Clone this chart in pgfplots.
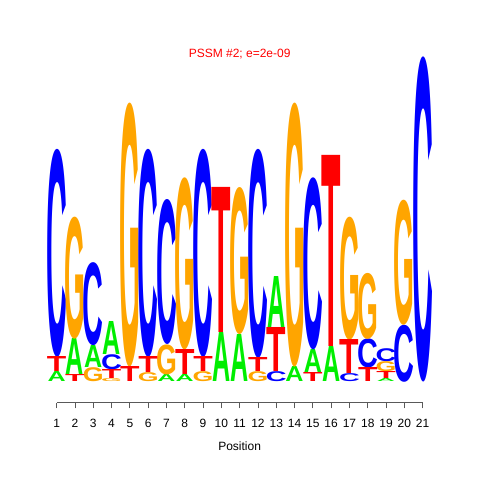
\documentclass[border=0pt]{standalone}
\usepackage{fontspec}
\setmainfont{Liberation Sans}
\usepackage{graphicx}
\usepackage{pgfplots}
\usepackage{pgfplotstable}
\pgfplotsset{compat=1.18}
\definecolor{lA}{RGB}{0,238,0}
\definecolor{lC}{RGB}{0,0,255}
\definecolor{lG}{RGB}{255,165,0}
\definecolor{lT}{RGB}{255,0,0}
\newlength\yunit
\setlength\yunit{121.875pt}
\newlength\lh
\pgfplotstableread{
x y h
1 0 0.0615
2 0.043 0.2215
3 0.0862 0.1354
4 0.1662 0.2031
7 0 0.0431
8 0 0.0431
10 0 0.3015
11 0 0.2892
13 0.3323 0.3138
14 0 0.0923
15 0.0554 0.1415
16 0 0.2154
19 0 0.0185
}\tabA
\pgfplotstableread{
x y h
1 0.1538 1.280
3 0.2215 0.5108
4 0.0738 0.0923
6 0.1538 1.280
7 0.2277 0.8923
9 0.1538 1.280
12 0.1477 1.2862
13 0 0.0615
15 0.1969 1.0585
17 0 0.0492
18 0.0862 0.1785
19 0.1231 0.08
20 0 0.3508
21 0 2.0
}\tabC
\pgfplotstableread{
x y h
2 0.2646 0.751
3 0 0.0862
4 0 0.0185
5 0.0923 1.6246
6 0 0.0554
7 0.0431 0.1846
8 0.1969 1.0585
9 0 0.0615
11 0.2892 0.9046
12 0 0.0615
14 0.0923 1.6246
17 0.2585 0.7569
18 0.2646 0.4062
19 0.0615 0.0615
20 0.3508 0.7692
}\tabG
\pgfplotstableread{
x y h
1 0.0615 0.0923
2 0 0.043
4 0.0185 0.0554
5 0 0.0923
6 0.0554 0.0985
8 0.0431 0.1538
9 0.0615 0.0923
10 0.3015 0.8923
12 0.0615 0.0862
13 0.0615 0.2708
15 0 0.0554
16 0.2154 1.1754
17 0.0492 0.2092
18 0 0.0862
19 0.0185 0.0431
}\tabT
\pgfplotsset{letter/.style n args={3}{draw=none, mark=none, forget plot,
  point meta=explicit symbolic,
  nodes near coords={\setlength\lh{\pgfplotspointmeta\yunit}\resizebox*{#2}{\lh}{\bfseries #1}},
  every node near coord/.append style={text=#3, anchor=south, inner sep=0pt, outer sep=0pt}}}
\begin{document}
\begin{tikzpicture}
\useasboundingbox (-42.5pt,-58pt) rectangle (317.5pt,302pt);
\begin{axis}[
  at={(0,0)}, anchor=south west,
  scale only axis, width=274.5pt, height=259.28pt,
  xmin=1, xmax=21, ymin=-0.1274, ymax=2.0,
  clip=false,
  axis x line*=bottom, axis y line=none,
  x axis line style={black!65, line width=0.6pt},
  xtick={1,...,21}, xtick align=outside, major tick length=4.3pt,
  tick style={black!65, line width=0.6pt},
  tick label style={font=\fontsize{9}{10}\selectfont},
  /pgf/number format/assume math mode=true,
  xticklabel style={yshift=-4.75pt},
  xlabel={Position},
  xlabel style={font=\fontsize{9}{10}\selectfont, at={(axis description cs:0.5,0)}, anchor=center, yshift=-32.5pt},
  title={PSSM \#2; e=2e-09},
  title style={font=\fontsize{9}{10}\selectfont, text=red, at={(axis description cs:0.5,1)}, anchor=center, yshift=-3.7pt},
]
\addplot[letter={A}{13.6pt}{lA}] table[x=x,y=y,meta=h] {\tabA};
\addplot[letter={C}{15.6pt}{lC}] table[x=x,y=y,meta=h] {\tabC};
\addplot[letter={G}{15.6pt}{lG}] table[x=x,y=y,meta=h] {\tabG};
\addplot[letter={T}{14.6pt}{lT}] table[x=x,y=y,meta=h] {\tabT};
\end{axis}
\end{tikzpicture}
\end{document}
